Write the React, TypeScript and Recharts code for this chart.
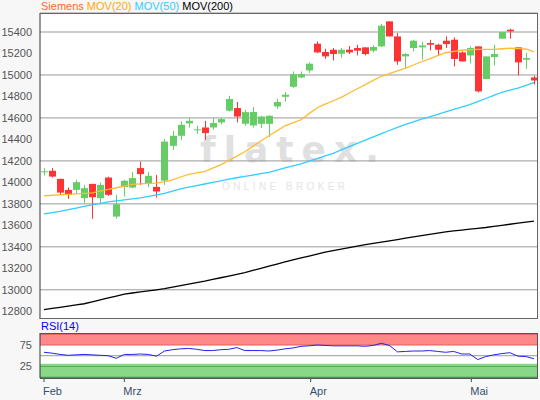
import { ComposedChart, Bar, Line, XAxis, YAxis, CartesianGrid, ReferenceArea, ReferenceLine } from 'recharts'

// one entry per trading session, left to right
const opens = [14098, 14108, 14033, 13930, 13930, 13853, 13986, 13853, 14045, 13682, 13956, 13952, 14133, 13992, 13958, 14017, 14340, 14434, 14549, 14487, 14511, 14511, 14558, 14667, 14692, 14546, 14530, 14545, 14545, 14707, 14797, 14890, 14977, 15042, 15291, 15214, 15235, 15198, 15235, 15251, 15257, 15226, 15266, 15499, 15359, 15173, 15251, 15257, 15297, 15282, 15319, 15328, 15210, 15182, 15266, 14962, 15167, 15338, 15421, 15257, 15142, 14977]
const highs = [14133, 14133, 14033, 13952, 14024, 13977, 13986, 13999, 14052, 13884, 14024, 14095, 14194, 14098, 14070, 14403, 14480, 14567, 14600, 14527, 14573, 14600, 14600, 14806, 14748, 14676, 14701, 14620, 14625, 14779, 14841, 15033, 15033, 15117, 15312, 15244, 15251, 15251, 15270, 15282, 15257, 15275, 15475, 15499, 15391, 15204, 15328, 15307, 15328, 15291, 15359, 15350, 15220, 15266, 15266, 15173, 15282, 15400, 15431, 15257, 15204, 14993]
const lows = [14064, 14045, 13884, 13847, 13900, 13806, 13660, 13800, 13875, 13663, 13868, 13946, 13977, 13956, 13859, 13977, 14303, 14396, 14511, 14452, 14396, 14490, 14540, 14660, 14558, 14527, 14511, 14505, 14422, 14686, 14753, 14880, 14972, 15020, 15204, 15151, 15135, 15160, 15195, 15182, 15182, 15210, 15260, 15359, 15095, 15064, 15220, 15142, 15229, 15180, 15251, 15080, 15126, 15107, 14838, 14962, 15089, 15338, 15338, 14996, 15058, 14912]
const closes = [14103, 14054, 13905, 13884, 14002, 13946, 13862, 13977, 13884, 13797, 14015, 14040, 14077, 14061, 13915, 14380, 14434, 14536, 14573, 14494, 14459, 14552, 14589, 14776, 14613, 14654, 14655, 14613, 14620, 14748, 14816, 15008, 15008, 15105, 15210, 15173, 15195, 15235, 15210, 15226, 15195, 15260, 15459, 15359, 15126, 15195, 15319, 15275, 15282, 15235, 15288, 15149, 15126, 15251, 14847, 15173, 15195, 15400, 15406, 15117, 15158, 14949]

const mov20 = [13875, 13880, 13884, 13888, 13893, 13897, 13902, 13918, 13935, 13950, 13966, 13982, 13986, 13990, 13993, 14008, 14024, 14050, 14075, 14088, 14101, 14132, 14163, 14204, 14245, 14285, 14335, 14385, 14434, 14480, 14527, 14555, 14583, 14640, 14695, 14728, 14760, 14792, 14832, 14872, 14910, 14950, 14988, 15013, 15038, 15063, 15093, 15123, 15150, 15180, 15207, 15220, 15230, 15235, 15238, 15238, 15238, 15244, 15249, 15246, 15242, 15216]
const mov50 = [13707, 13718, 13730, 13746, 13761, 13777, 13791, 13805, 13819, 13828, 13838, 13847, 13856, 13870, 13884, 13898, 13919, 13940, 13955, 13970, 13985, 14000, 14015, 14030, 14043, 14056, 14068, 14081, 14094, 14114, 14134, 14153, 14173, 14198, 14222, 14247, 14271, 14302, 14333, 14364, 14394, 14424, 14454, 14483, 14512, 14541, 14564, 14588, 14611, 14634, 14656, 14679, 14701, 14723, 14752, 14781, 14810, 14839, 14859, 14878, 14903, 14928]
const mov200 = [12815, 12826, 12837, 12848, 12859, 12870, 12888, 12906, 12924, 12942, 12960, 12970, 12980, 12990, 13000, 13010, 13024, 13038, 13052, 13066, 13080, 13096, 13112, 13128, 13144, 13160, 13180, 13200, 13220, 13240, 13260, 13278, 13296, 13314, 13332, 13350, 13364, 13378, 13392, 13406, 13420, 13432, 13444, 13456, 13468, 13480, 13492, 13504, 13516, 13528, 13540, 13548, 13556, 13564, 13572, 13580, 13590, 13600, 13610, 13620, 13630, 13640]
const rsi14 = [58, 56, 53, 51, 52, 53, 52, 51, 50, 44, 53, 53, 54, 53, 49, 61, 64, 66, 67, 65, 62, 62, 64, 65, 69, 62, 62, 62, 61, 63, 66, 68, 72, 73, 75, 74, 73, 73, 73, 73, 72, 74, 79, 74, 59, 60, 61, 61, 62, 60, 58, 60, 54, 54, 41, 48, 52, 55, 57, 49, 48, 43]

const yTicks = [12800, 13000, 13200, 13400, 13600, 13800, 14000, 14200, 14400, 14600, 14800, 15000, 15200, 15400]
const rsiTicks = [25, 75]
const monthLabels = ['Feb', 'Mrz', 'Apr', 'Mai']
const monthTickPos = [0, 10, 33.2, 53.2]

const candleData = opens.map((o, i) => ({
  idx: i,
  open: o,
  high: highs[i],
  low: lows[i],
  close: closes[i],
  mov20: mov20[i],
  mov50: mov50[i],
  mov200: mov200[i],
}))
const rsiData = rsi14.map((v, i) => ({ idx: i, rsi: v }))

const font = '"Liberation Sans", Arial, sans-serif'

function Candle(props: any) {
  const { x, y, width, height, payload } = props
  const { open, close, high, low } = payload
  const top = Math.min(y, y + height)
  const h = Math.abs(height)
  const k = high > low ? h / (high - low) : 0
  const bodyTop = top + (high - Math.max(open, close)) * k
  const bodyH = Math.max(1, Math.abs(open - close) * k)
  const color = close >= open ? '#66cc66' : '#ff3333'
  const cx = Math.round(x + width / 2) + 0.5
  return (
    <g>
      <line x1={cx} x2={cx} y1={top} y2={top + h} stroke={color} strokeWidth={1} />
      <rect x={cx - 3.5} y={bodyTop} width={7} height={bodyH} fill={color} />
    </g>
  )
}

function MonthTick(props: any) {
  const { x, y, payload } = props
  const i = monthTickPos.indexOf(payload.value)
  return (
    <text x={x - 1} y={y} dy="0.71em" textAnchor="start" fontSize={11} fill="#34506e" fontFamily={font}>
      {monthLabels[i]}
    </text>
  )
}

export default function App() {
  return (
    <div style={{ position: 'absolute', left: 0, top: 0, width: 540, height: 400, background: '#f7f7f7', fontFamily: font, overflow: 'hidden' }}>
      <div style={{ position: 'absolute', left: 40, top: 13, width: 498, height: 306, background: '#fff' }} />
      <div style={{ position: 'absolute', left: 40, top: 333, width: 498, height: 45, background: '#fff' }} />

      {/* watermark */}
      <div style={{ position: 'absolute', left: 200, top: 129, fontSize: 36, fontWeight: 'bold', color: '#e0e0e0', letterSpacing: 8, fontFamily: '"DejaVu Sans", sans-serif', whiteSpace: 'nowrap' }}>flatex.</div>
      <div style={{ position: 'absolute', left: 222, top: 181, fontSize: 10, color: '#e4e4e4', letterSpacing: 3.4, whiteSpace: 'nowrap' }}>ONLINE BROKER</div>

      <div style={{ position: 'absolute', left: 41, top: 0, fontSize: 11, whiteSpace: 'nowrap' }}>
        <span style={{ color: '#ff6633' }}>Siemens </span>
        <span style={{ color: '#ffaa00' }}>MOV(20) </span>
        <span style={{ color: '#33ccff' }}>MOV(50) </span>
        <span style={{ color: '#000' }}>MOV(200)</span>
      </div>

      <div style={{ position: 'absolute', left: 0, top: 0 }}>
        <ComposedChart width={540} height={319} data={candleData} margin={{ top: 13, right: 2, bottom: 0, left: 0 }}>
          <CartesianGrid horizontal vertical={false} stroke="#999" />
          <XAxis dataKey="idx" hide />
          <YAxis
            domain={[12728, 15577]}
            ticks={yTicks}
            width={40}
            tickLine={false}
            tickSize={0}
            tickMargin={8}
            axisLine={{ stroke: '#333' }}
            tick={{ fontSize: 11, fill: '#555', fontFamily: font }}
            allowDataOverflow
          />
          <Bar dataKey={(d: any) => [d.low, d.high]} shape={<Candle />} barSize={6} isAnimationActive={false} />
          <Line dataKey="mov200" stroke="#000" strokeWidth={1.3} dot={false} isAnimationActive={false} />
          <Line dataKey="mov50" stroke="#33ccff" strokeWidth={1.3} dot={false} isAnimationActive={false} />
          <Line dataKey="mov20" stroke="#ffbb33" strokeWidth={1.3} dot={false} isAnimationActive={false} />
        </ComposedChart>
      </div>

      <div style={{ position: 'absolute', left: 40, top: 13, width: 498, height: 306, border: '1px solid #666', borderLeft: 'none', boxSizing: 'border-box', pointerEvents: 'none' }} />

      <div style={{ position: 'absolute', left: 41, top: 320, fontSize: 11, color: '#0000ff' }}>RSI(14)</div>

      <div style={{ position: 'absolute', left: 0, top: 320 }}>
        <ComposedChart width={540} height={80} data={rsiData} margin={{ top: 13, right: 2, bottom: 0, left: 0 }}>
          <ReferenceArea y1={75} y2={103} fill="#ff8888" fillOpacity={1} stroke="none" />
          <ReferenceArea y1={-2} y2={31} fill="#88d888" fillOpacity={1} stroke="none" />
          <ReferenceLine y={100} stroke="#dd6060" />
          <ReferenceLine y={75} stroke="#dd6060" />
          <ReferenceLine y={50} stroke="#999" />
          <ReferenceLine y={25} stroke="#55aa55" />
          <ReferenceLine y={0} stroke="#55aa55" />
          <XAxis
            type="number"
            dataKey="idx"
            domain={[-0.5, 61.5]}
            ticks={monthTickPos}
            interval={0}
            tick={<MonthTick />}
            tickSize={4}
            tickMargin={5}
            height={22}
            axisLine={{ stroke: '#555' }}
            tickLine={{ stroke: '#34506e' }}
            allowDataOverflow
          />
          <YAxis
            domain={[-2, 103]}
            ticks={rsiTicks}
            width={40}
            tickLine={false}
            tickSize={0}
            tickMargin={8}
            axisLine={{ stroke: '#333' }}
            tick={{ fontSize: 11, fill: '#555', fontFamily: font }}
            allowDataOverflow
          />
          <Line dataKey="rsi" stroke="#2222ee" strokeWidth={1} dot={false} isAnimationActive={false} />
        </ComposedChart>
      </div>

      <div style={{ position: 'absolute', left: 40, top: 333, width: 498, height: 46, border: '1px solid #555', borderLeft: 'none', boxSizing: 'border-box', pointerEvents: 'none' }} />
    </div>
  )
}
